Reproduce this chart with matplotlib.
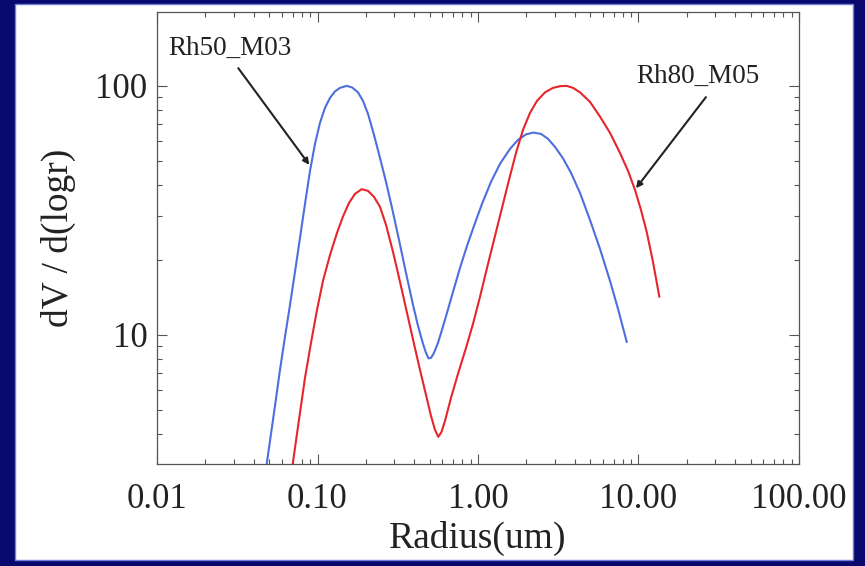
import matplotlib.pyplot as plt
from matplotlib.patches import Rectangle
from matplotlib.ticker import FixedLocator, FixedFormatter, LogLocator, NullFormatter

# Rh50_M03 size distribution (blue)
rh50_radius = [0.04827, 0.05434, 0.05838, 0.06272, 0.06742, 0.07240, 0.07780, 0.08358,
               0.08981, 0.09647, 0.1036, 0.1113, 0.1197, 0.1285, 0.1381, 0.1520,
               0.1641, 0.1788, 0.1921, 0.2064, 0.2249, 0.2451, 0.2672, 0.2912,
               0.3220, 0.3559, 0.3936, 0.4229, 0.4543, 0.4742, 0.4914, 0.5094,
               0.5318, 0.5632, 0.5964, 0.6410, 0.6985, 0.7725, 0.8541, 0.9443,
               1.059, 1.205, 1.371, 1.583, 1.775, 1.991, 2.211, 2.469, 2.730,
               3.019, 3.385, 3.797, 4.320, 4.986, 5.756, 6.644, 7.454, 8.444]
rh50_dv = [3.033, 5.186, 7.234, 9.817, 13.20, 17.91, 24.53, 33.58,
           45.57, 58.51, 71.04, 81.60, 89.50, 95.04, 98.17, 100.0,
           98.62, 94.17, 87.04, 77.20, 63.56, 51.38, 41.16, 32.36,
           24.07, 17.74, 13.20, 10.87, 9.204, 8.467, 8.045, 8.083,
           8.467, 9.289, 10.47, 12.26, 14.88, 18.58, 22.77, 27.41,
           33.58, 41.16, 48.62, 55.85, 60.69, 63.86, 64.93, 64.15, 61.25,
           56.89, 51.15, 44.74, 37.18, 28.95, 22.15, 16.48, 12.72, 9.374]

# Rh80_M05 size distribution (red)
rh80_radius = [0.07008, 0.07558, 0.08358, 0.09110, 0.09929, 0.1082, 0.1197, 0.1323,
               0.1442, 0.1572, 0.1713, 0.1885, 0.2064, 0.2249, 0.2451, 0.2672,
               0.2954, 0.3266, 0.3611, 0.3992, 0.4351, 0.4742, 0.5094, 0.5395,
               0.5657, 0.5924, 0.6229, 0.6789, 0.7504, 0.8419, 0.9307, 1.029,
               1.138, 1.258, 1.391, 1.560, 1.725, 1.907, 2.109, 2.331, 2.615,
               2.933, 3.243, 3.569, 3.907, 4.320, 4.986, 5.756, 6.644, 7.667,
               8.603, 9.511, 10.36, 11.25, 12.31, 13.48]
rh80_dv = [3.033, 4.271, 6.721, 9.289, 12.60, 16.48, 20.96, 25.68,
           29.91, 33.89, 36.84, 38.47, 37.87, 35.83, 32.67, 27.66,
           21.54, 16.33, 12.26, 9.204, 7.234, 5.741, 4.728, 4.154,
           3.894, 4.077, 4.514, 5.585, 6.973, 8.868, 11.07, 14.21,
           18.58, 24.07, 31.19, 41.93, 53.80, 66.58, 77.91, 87.04, 94.17,
           98.17, 99.72, 100.0, 98.17, 94.17, 86.24, 75.28, 64.75, 53.80,
           45.57, 38.22, 31.77, 25.92, 19.64, 14.25]

x_ticks = [0.01, 0.1, 1, 10, 100]
x_tick_labels = ['0.01', '0.10', '1.00', '10.00', '100.00']
y_ticks = [10, 100]
y_tick_labels = ['10', '100']

plt.rcParams['font.family'] = ['Liberation Serif', 'DejaVu Serif']

fig = plt.figure(figsize=(8.65, 5.66), dpi=100)
fig.patch.set_facecolor('#08086e')
# white slide area inside the navy frame (behind the axes)
fig.patches.append(Rectangle((15 / 865, 6 / 566), 838 / 865, 556 / 566,
                             transform=fig.transFigure, facecolor='white',
                             edgecolor='#6f7fd8', linewidth=1, zorder=-5))

ax = fig.add_axes([157 / 865, 102 / 566, 642 / 865, 452 / 566])
ax.set_facecolor('none')

ax.plot(rh50_radius, rh50_dv, color='#4d6fdd', linewidth=1.5)
ax.plot(rh80_radius, rh80_dv, color='#e8242c', linewidth=1.5)

ax.set_xscale('log')
ax.set_yscale('log')
ax.set_xlim(0.01, 100)
ax.set_ylim(3.03, 198)

ax.xaxis.set_major_locator(FixedLocator(x_ticks))
ax.xaxis.set_major_formatter(FixedFormatter(x_tick_labels))
ax.yaxis.set_major_locator(FixedLocator(y_ticks))
ax.yaxis.set_major_formatter(FixedFormatter(y_tick_labels))
ax.xaxis.set_minor_locator(LogLocator(base=10, subs=range(2, 10)))
ax.yaxis.set_minor_locator(LogLocator(base=10, subs=range(2, 10)))
ax.xaxis.set_minor_formatter(NullFormatter())
ax.yaxis.set_minor_formatter(NullFormatter())

ax.tick_params(which='both', direction='in', top=True, right=True,
               color='#555555', width=0.8)
ax.tick_params(which='major', length=7)
ax.tick_params(which='minor', length=3.5)
ax.tick_params(axis='x', which='major', labelsize=25, pad=14, labelcolor='#222222')
ax.tick_params(axis='y', which='major', labelsize=25, pad=7, labelcolor='#222222')
for s in ax.spines.values():
    s.set_color('#555555')
    s.set_linewidth(0.9)

fig.text(478 / 865, 18 / 566, 'Radius(um)', fontsize=27, ha='center',
         va='baseline', color='#222222')
fig.text(58 / 865, 328 / 566, 'dV / d(logr)', fontsize=27, ha='center',
         va='center', rotation=90, color='#222222')

# labels with arrows pointing at the curves
ax.text(0.01171, 133.2, 'Rh50_M03', fontsize=19.5, ha='left', va='baseline',
        color='#222222')
ax.annotate('', xy=(0.0889, 48.2), xytext=(0.0321, 117.8),
            arrowprops=dict(arrowstyle='-|>', color='#222222', lw=1.5,
                            mutation_scale=9, shrinkA=0, shrinkB=0))
ax.text(9.65, 102.8, 'Rh80_M05', fontsize=19.5, ha='left', va='baseline',
        color='#222222')
ax.annotate('', xy=(9.65, 38.8), xytext=(26.3, 90.1),
            arrowprops=dict(arrowstyle='-|>', color='#222222', lw=1.5,
                            mutation_scale=9, shrinkA=0, shrinkB=0))

fig.savefig('out.png', dpi=100, facecolor=fig.get_facecolor())
